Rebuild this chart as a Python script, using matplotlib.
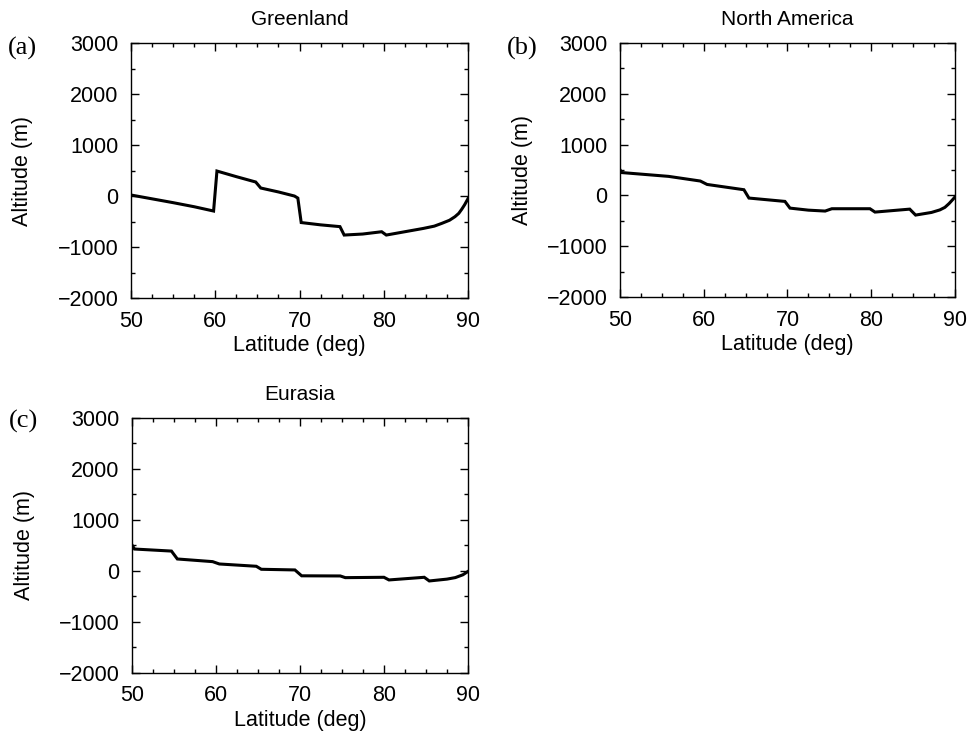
import matplotlib.pyplot as plt
from matplotlib.ticker import MultipleLocator

plt.rcParams['font.family'] = ['Liberation Sans', 'DejaVu Sans']

# latitude (deg) / altitude (m)
greenland_lat = [50, 52, 55, 57.5, 59.8, 60.2, 62.5, 64.8, 65.4, 67.5, 69.4, 69.8, 70.2, 72.5, 74.8, 75.3,
                 77.5, 79.75, 80.3, 82.5, 84.7, 86.0, 86.9, 87.8, 88.45, 88.9, 89.25, 89.6, 89.85, 90]
greenland_alt = [20, -40, -130, -210, -294, 490, 380, 275, 157, 80, 0, -40, -520, -565, -600, -765,
                 -745, -700, -765, -700, -635, -590, -535, -475, -405, -340, -260, -170, -95, -50]

namerica_lat = [50, 50.2, 55.8, 59.6, 60.4, 64.8, 65.4, 69.7, 70.3, 72.5, 74.5, 75.3, 79.85, 80.45,
                84.6, 85.3, 87.2, 88.2, 88.8, 89.3, 89.8, 90]
namerica_alt = [506, 450, 375, 283, 216, 112, -52, -118, -250, -290, -308, -262, -262, -328,
                -270, -387, -335, -285, -235, -160, -70, -30]

eurasia_lat = [50, 50.3, 54.7, 55.4, 59.6, 60.4, 64.8, 65.4, 69.4, 70.2, 74.8, 75.4, 80.0, 80.6,
               84.8, 85.4, 87.5, 88.5, 89.4, 90]
eurasia_alt = [510, 430, 390, 235, 183, 137, 92, 33, 20, -95, -98, -131, -124, -176,
               -124, -196, -160, -130, -75, -10]

titles = ['Greenland', 'North America', 'Eurasia']
panel_tags = ['(a)', '(b)', '(c)']

W, H = 969, 733
fig = plt.figure(figsize=(W / 100, H / 100), dpi=100)
rects = [[0.1352, 0.5934, 0.3478, 0.3479],
         [0.6398, 0.5948, 0.3457, 0.3465],
         [0.1362, 0.0819, 0.3467, 0.3479]]
ylabel_x = [-0.29, -0.26, -0.29]
tag_pos = [(8, 48), (507, 48), (9, 421)]
series = [(greenland_lat, greenland_alt), (namerica_lat, namerica_alt), (eurasia_lat, eurasia_alt)]

for rect, (lat, alt), title, tag, ylx, tp in zip(rects, series, titles, panel_tags, ylabel_x, tag_pos):
    ax = fig.add_axes(rect)
    ax.plot(lat, alt, color='black', lw=2.2, solid_joinstyle='miter')
    ax.set_xlim(50, 90)
    ax.set_ylim(-2000, 3000)
    ax.set_xticks([50, 60, 70, 80, 90])
    ax.set_yticks([-2000, -1000, 0, 1000, 2000, 3000])
    ax.set_yticklabels(['\u22122000', '\u22121000', '0', '1000', '2000', '3000'])
    ax.xaxis.set_minor_locator(MultipleLocator(2.5))
    ax.yaxis.set_minor_locator(MultipleLocator(500))
    ax.tick_params(which='both', direction='in', top=True, right=True, labelsize=15.5)
    ax.tick_params(which='major', length=6, width=1, pad=9)
    ax.tick_params(which='minor', length=3, width=1)
    for sp in ax.spines.values():
        sp.set_linewidth(1)
    ax.set_xlabel('Latitude (deg)', fontsize=15.5)
    ax.xaxis.set_label_coords(0.5, -0.145)
    ax.xaxis.label.set_va('top')
    ax.set_ylabel('Altitude (m)', fontsize=15.5)
    ax.yaxis.set_label_coords(ylx, 0.5)
    ax.set_title(title, fontsize=15, pad=13)
    fig.text(tp[0] / W, 1 - tp[1] / H, tag, fontsize=19,
             family='Liberation Serif', ha='left', va='center')

fig.savefig('out.png', dpi=100)
